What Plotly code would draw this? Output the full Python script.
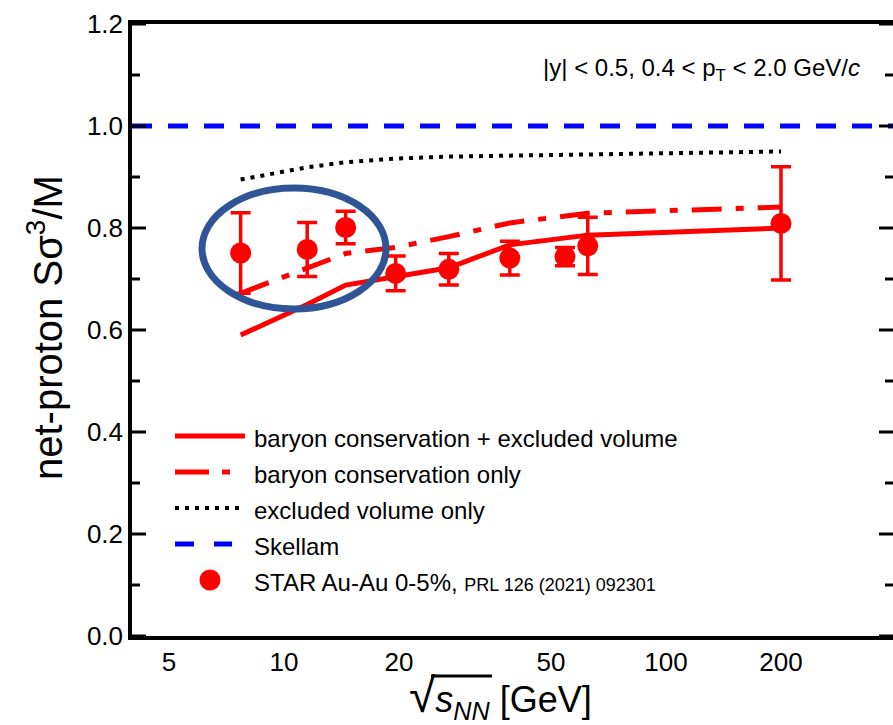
import math
import plotly.graph_objects as go

# ---------------- data ----------------
energy = [7.7, 11.5, 14.5, 19.6, 27, 39, 54.4, 62.4, 200]
star_ratio = [0.751, 0.758, 0.801, 0.711, 0.719, 0.741, 0.744, 0.765, 0.809]
star_err = [0.079, 0.053, 0.032, 0.034, 0.031, 0.033, 0.018, 0.056, 0.111]
bc_ev = [0.590, 0.650, 0.688, 0.705, 0.722, 0.767, 0.780, 0.786, 0.800]
bc_only = [0.672, 0.722, 0.750, 0.762, 0.783, 0.810, 0.825, 0.829, 0.841]
ev_only = [0.895, 0.919, 0.929, 0.936, 0.940, 0.942, 0.943, 0.944, 0.950]
skellam_x = [4, 400]
skellam_y = [1.0, 1.0]

x_tick_vals = [5, 10, 20, 50, 100, 200]
x_tick_text = ["5", "10", "20", "50", "100", "200"]
x_long_ticks = [10, 100]
x_short_ticks = [5, 6, 7, 8, 9, 20, 30, 40, 50, 60, 70, 80, 90, 200, 300]
y_tick_vals = [0.0, 0.2, 0.4, 0.6, 0.8, 1.0, 1.2]
y_tick_text = ["0.0", "0.2", "0.4", "0.6", "0.8", "1.0", "1.2"]
y_minor_ticks = [0.1, 0.3, 0.5, 0.7, 0.9, 1.1]

legend_labels = [
    "baryon conservation + excluded volume",
    "baryon conservation only",
    "excluded volume only",
    "Skellam",
    "STAR Au-Au 0-5%, <span style='font-size:18px'>PRL 126 (2021) 092301</span>",
]

# ---------------- layout geometry (pixels) ----------------
W, H = 893, 725
L, R, T, B = 132, 893, 24, 636
x_lo = math.log10(4)
x_hi = x_lo + (R - L) / 382.0


def px(x):
    return (x - L) / (R - L)


def py(y):
    return (B - y) / (B - T)


RED = "#ff0000"
FONT = "Liberation Sans, Arial, sans-serif"

fig = go.Figure()

fig.add_trace(go.Scatter(x=skellam_x, y=skellam_y, mode="lines",
                         line=dict(color="#0000ff", width=5, dash="20px,16px"),
                         showlegend=False, hoverinfo="skip"))
fig.add_trace(go.Scatter(x=energy, y=ev_only, mode="lines",
                         line=dict(color="black", width=4, dash="4px,6px"),
                         showlegend=False, hoverinfo="skip"))
fig.add_trace(go.Scatter(x=energy, y=bc_only, mode="lines",
                         line=dict(color=RED, width=5, dash="30px,14px,8px,14px"),
                         showlegend=False, hoverinfo="skip"))
fig.add_trace(go.Scatter(x=energy, y=bc_ev, mode="lines",
                         line=dict(color=RED, width=5),
                         showlegend=False, hoverinfo="skip"))
fig.add_trace(go.Scatter(x=energy, y=star_ratio, mode="markers",
                         marker=dict(color=RED, size=21, line=dict(width=0)),
                         error_y=dict(type="data", array=star_err, color=RED,
                                      thickness=3.5, width=10),
                         showlegend=False))

fig.update_layout(
    width=W, height=H,
    margin=dict(l=L, r=W - R, t=T, b=H - B),
    plot_bgcolor="white", paper_bgcolor="white",
    font=dict(family=FONT, color="black"),
    showlegend=False,
    xaxis=dict(type="log", range=[x_lo, x_hi], showgrid=False, zeroline=False,
               showline=True, linecolor="black", linewidth=3.5, mirror=True,
               ticks="", tickmode="array", tickvals=x_tick_vals, ticktext=x_tick_text,
               tickfont=dict(size=26, family=FONT)),
    yaxis=dict(range=[0, 1.2], showgrid=False, zeroline=False,
               showline=True, linecolor="black", linewidth=3.5, mirror=False,
               ticks="", tickmode="array", tickvals=y_tick_vals, ticktext=y_tick_text,
               tickfont=dict(size=26, family=FONT)),
)

shapes = []
tick_line = dict(color="black", width=3)
# x ticks on bottom and top (inside)
for vals, ln in ((x_short_ticks, 7.0), (x_long_ticks, 14.0)):
    f = ln / (B - T)
    for v in vals:
        for y0, y1 in ((0, f), (1 - f, 1)):
            shapes.append(dict(type="line", xref="x", yref="paper",
                               x0=math.log10(v), x1=math.log10(v), y0=y0, y1=y1,
                               line=tick_line))
# y ticks on left and right (inside); the right spine lies just outside the picture
for vals, ln in ((y_tick_vals, 14.0), (y_minor_ticks, 8.0)):
    f = ln / (R - L)
    for v in vals:
        for x0, x1 in ((0, f), (1 - f, 1)):
            shapes.append(dict(type="line", xref="paper", yref="y",
                               x0=x0, x1=x1, y0=v, y1=v, line=tick_line))
# legend samples
rows = [436, 472, 508, 544, 580]
shapes.append(dict(type="line", xref="paper", yref="paper", x0=px(175), x1=px(245),
                   y0=py(rows[0]), y1=py(rows[0]), line=dict(color=RED, width=5)))
shapes.append(dict(type="line", xref="paper", yref="paper", x0=px(175), x1=px(232),
                   y0=py(rows[1]), y1=py(rows[1]),
                   line=dict(color=RED, width=5, dash="34px,13px,8px,13px")))
shapes.append(dict(type="line", xref="paper", yref="paper", x0=px(175), x1=px(245),
                   y0=py(rows[2]), y1=py(rows[2]),
                   line=dict(color="black", width=4, dash="4px,6px")))
shapes.append(dict(type="line", xref="paper", yref="paper", x0=px(175), x1=px(232),
                   y0=py(rows[3]), y1=py(rows[3]),
                   line=dict(color="#0000ff", width=5, dash="19px,20px")))
shapes.append(dict(type="circle", xref="paper", yref="paper",
                   xsizemode="pixel", ysizemode="pixel",
                   xanchor=px(210), yanchor=py(rows[4]),
                   x0=-10.5, x1=10.5, y0=-10.5, y1=10.5,
                   fillcolor=RED, line=dict(width=0)))
# highlight ellipse
shapes.append(dict(type="circle", xref="paper", yref="paper",
                   x0=px(202), x1=px(386), y0=py(309), y1=py(188),
                   line=dict(color="#2F5597", width=7), layer="above"))
# square-root vinculum for x title
shapes.append(dict(type="line", xref="paper", yref="paper",
                   x0=px(431), x1=px(492), y0=py(676), y1=py(676),
                   line=dict(color="black", width=3)))
fig.update_layout(shapes=shapes)

ann = []
for r, lab in zip(rows, legend_labels):
    ann.append(dict(text=lab, xref="paper", yref="paper", x=px(252), y=py(r + 2),
                    xanchor="left", yanchor="middle", showarrow=False,
                    font=dict(size=24, family=FONT)))
ann.append(dict(text="|y| &lt; 0.5, 0.4 &lt; p<sub>T</sub> &lt; 2.0 GeV/<i>c</i>",
                xref="paper", yref="paper", x=px(862), y=py(70),
                xanchor="right", yanchor="middle", showarrow=False,
                font=dict(size=24, family=FONT)))
ann.append(dict(text="net-proton S\u03c3<sup>3</sup>/M", textangle=-90,
                xref="paper", yref="paper", x=px(45), y=py(328),
                xanchor="center", yanchor="middle", showarrow=False,
                font=dict(size=40, family=FONT)))
ann.append(dict(text="<span style='font-size:48px'>\u221a</span><i>s</i><sub><i>NN</i></sub> [GeV]",
                xref="paper", yref="paper", x=px(500), y=py(697),
                xanchor="center", yanchor="middle", showarrow=False,
                font=dict(size=36, family=FONT)))
fig.update_layout(annotations=ann)

fig.write_html("out.html")
